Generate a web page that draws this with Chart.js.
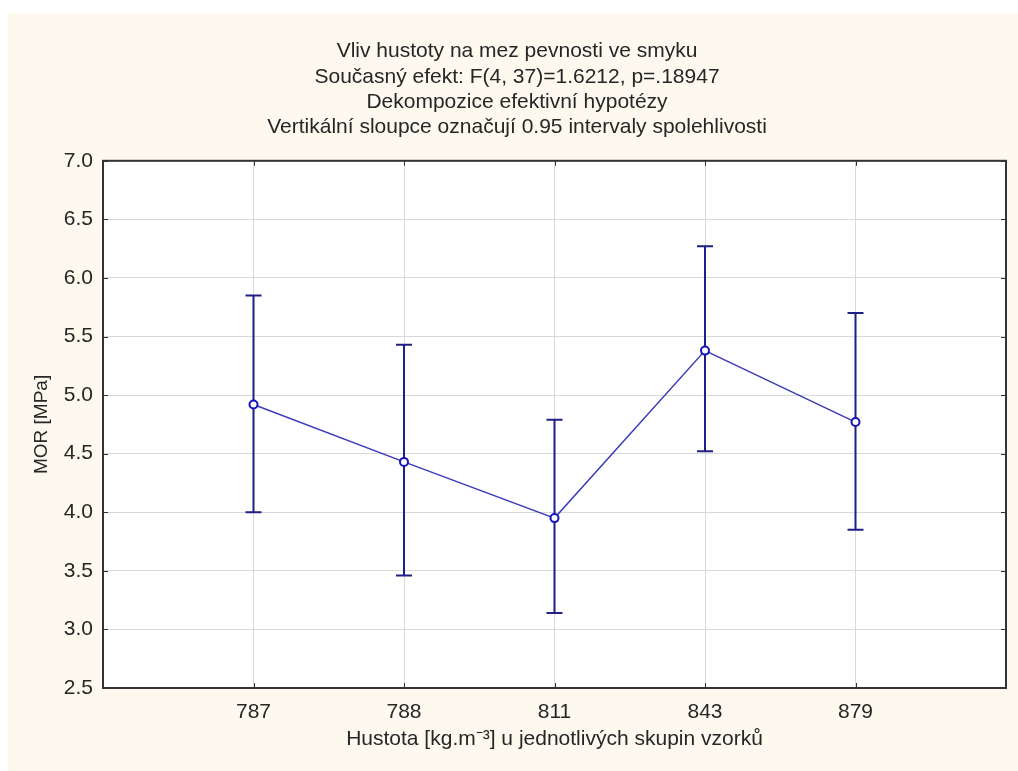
<!DOCTYPE html>
<html>
<head>
<meta charset="utf-8">
<script src="https://cdn.jsdelivr.net/npm/chart.js@4.4.1/dist/chart.umd.min.js"></script>
<style>
  html, body { margin: 0; padding: 0; background: #ffffff; }
  #panel { position: absolute; left: 8px; top: 13px; width: 1010px; height: 758px; background: #fdf9ee; }
  #chart { display: block; }
</style>
</head>
<body>
<div id="panel"><canvas id="chart" width="1010" height="758"></canvas></div>
<script>
// values
const categories = ['787', '788', '811', '843', '879'];
const means = [4.92, 4.43, 3.95, 5.38, 4.77];
const upperCI = [5.85, 5.43, 4.79, 6.27, 5.70];
const lowerCI = [4.00, 3.46, 3.14, 4.52, 3.85];
const titleLines = [
    'Vliv hustoty na mez pevnosti ve smyku',
    'Současný efekt: F(4, 37)=1.6212, p=.18947',
    'Dekompozice efektivní hypotézy',
    'Vertikální sloupce označují 0.95 intervaly spolehlivosti'
];
const xTitle = 'Hustota [kg.m⁻³] u jednotlivých skupin vzorků';
const yTitle = 'MOR [MPa]';

const fontFamily = '"Liberation Sans", Arial, sans-serif';
const textColor = '#262626';

// white plot area, frame and inward tick marks
const frame = {
    id: 'frame',
    beforeDraw(chart) {
        const a = chart.chartArea;
        const ctx = chart.ctx;
        ctx.save();
        ctx.fillStyle = '#ffffff';
        ctx.fillRect(a.left, a.top, a.right - a.left, a.bottom - a.top);
        ctx.restore();
    },
    afterDraw(chart) {
        const a = chart.chartArea;
        const ctx = chart.ctx;
        const xs = chart.scales.x, ys = chart.scales.y;
        ctx.save();
        ctx.strokeStyle = '#333333';
        ctx.lineWidth = 1;
        ctx.beginPath();
        ys.ticks.forEach(t => {
            const py = Math.round(ys.getPixelForValue(t.value)) + 0.5;
            ctx.moveTo(a.left, py); ctx.lineTo(a.left + 5, py);
            ctx.moveTo(a.right - 5, py); ctx.lineTo(a.right, py);
        });
        categories.forEach((c, i) => {
            const px = Math.round(xs.getPixelForValue(i + 1)) + 0.5;
            ctx.moveTo(px, a.bottom); ctx.lineTo(px, a.bottom - 5);
            ctx.moveTo(px, a.top); ctx.lineTo(px, a.top + 5);
        });
        ctx.stroke();
        ctx.lineWidth = 2;
        ctx.strokeRect(a.left, a.top, a.right - a.left, a.bottom - a.top);
        ctx.restore();
    }
};

// vertical confidence interval bars
const errorBars = {
    id: 'errorBars',
    beforeDatasetsDraw(chart) {
        const xs = chart.scales.x, ys = chart.scales.y;
        const ctx = chart.ctx;
        ctx.save();
        ctx.strokeStyle = '#1f1f85';
        ctx.lineWidth = 2;
        categories.forEach((c, i) => {
            const px = xs.getPixelForValue(i + 1);
            const top = ys.getPixelForValue(upperCI[i]);
            const bot = ys.getPixelForValue(lowerCI[i]);
            ctx.beginPath();
            ctx.moveTo(px, top); ctx.lineTo(px, bot);
            ctx.moveTo(px - 8, top); ctx.lineTo(px + 8, top);
            ctx.moveTo(px - 8, bot); ctx.lineTo(px + 8, bot);
            ctx.stroke();
        });
        ctx.restore();
    }
};

new Chart(document.getElementById('chart'), {
    type: 'line',
    data: {
        datasets: [{
            data: means.map((m, i) => ({ x: i + 1, y: m })),
            borderColor: '#3b3bbb',
            borderWidth: 1.5,
            pointRadius: 4,
            pointBorderWidth: 2,
            pointBorderColor: '#1414c0',
            pointBackgroundColor: '#ffffff',
            tension: 0
        }]
    },
    options: {
        responsive: false,
        animation: false,
        layout: { padding: { left: 18, right: 10, top: 0, bottom: 15 } },
        plugins: {
            legend: { display: false },
            tooltip: { enabled: false },
            title: {
                display: true,
                text: titleLines,
                color: textColor,
                font: { family: fontFamily, size: 21, weight: 'normal', lineHeight: 1.2 },
                padding: { top: 26, bottom: 21 }
            }
        },
        scales: {
            x: {
                type: 'linear',
                min: 0,
                max: 6,
                afterFit: s => { s.height = 68; },
                grid: { color: '#d9d9d9', drawTicks: false },
                border: { display: false },
                ticks: {
                    stepSize: 1,
                    padding: 12,
                    color: textColor,
                    font: { family: fontFamily, size: 21 },
                    callback: v => categories[v - 1] || ''
                },
                title: {
                    display: true,
                    text: xTitle,
                    color: textColor,
                    font: { family: fontFamily, size: 21 }
                }
            },
            y: {
                min: 2.5,
                max: 7,
                afterFit: s => { s.width = 77; },
                grid: { color: '#d9d9d9', drawTicks: false },
                border: { display: false },
                ticks: {
                    stepSize: 0.5,
                    padding: 10,
                    color: textColor,
                    font: { family: fontFamily, size: 21 },
                    callback: v => v.toFixed(1)
                },
                title: {
                    display: true,
                    text: yTitle,
                    color: textColor,
                    font: { family: fontFamily, size: 19 }
                }
            }
        }
    },
    plugins: [frame, errorBars]
});
</script>
</body>
</html>
